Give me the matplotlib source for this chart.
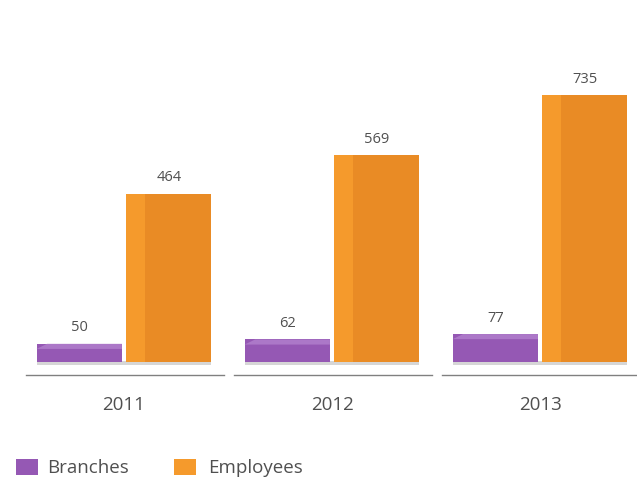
import matplotlib
matplotlib.use("Agg")
import matplotlib.pyplot as plt
from matplotlib.patches import Rectangle, Polygon
import numpy as np

plt.rcParams['font.family'] = ['Open Sans', 'DejaVu Sans']

years = ['2011', '2012', '2013']
branches = [50, 62, 77]
employees = [464, 569, 735]

purple = '#9558B4'
purple_top = '#AC78C8'
orange = '#E98B25'
orange_side = '#F59A2C'
text_col = '#505050'

fig = plt.figure(figsize=(6.37, 4.81), dpi=100)
fig.patch.set_facecolor('white')

# axes: baseline at 363 px from the top, full width
base_frac = (481 - 363) / 481
ax = fig.add_axes([0, base_frac, 1, 1 - base_frac])
ax.set_xlim(-0.596, 2.466)
ax.set_ylim(0, 1000)
ax.axis('off')

x = np.arange(len(years))
off = 0.215
w = 0.41

# bars
ax.bar(x - off, branches, width=w, color=purple, zorder=2)
ax.bar(x + off, employees, width=w, color=orange, zorder=2)

# lighter left face on the employee bars and top face on branch bars
ax.bar(x + off - w / 2 + 0.045, employees, width=0.09, color=orange_side, zorder=3)
for xi, v in zip(x, branches):
    ax.add_patch(Polygon([[xi - off - w / 2, v - 14], [xi - off - w / 2 + 0.05, v],
                          [xi - off + w / 2, v], [xi - off + w / 2, v - 14]],
                         closed=True, color=purple_top, zorder=3, lw=0))

# soft shadow along the floor
for xi in x:
    ax.add_patch(Rectangle((xi - off - w / 2, -8), 2 * off + w, 10,
                           color='#8a8a8a', alpha=0.35, lw=0, zorder=1, clip_on=False))

# value labels
for xi, v in zip(x, branches):
    ax.text(xi - off, v + 26, str(v), ha='center', va='bottom', fontsize=10.5, color=text_col)
for xi, v in zip(x, employees):
    ax.text(xi + off, v + 26, str(v), ha='center', va='bottom', fontsize=10.5, color=text_col)

# separator lines and year labels below the floor
ax2 = fig.add_axes([0, 0, 1, base_frac])
ax2.set_xlim(ax.get_xlim())
ax2.set_ylim(481, 363)
ax2.axis('off')
for xi, yr in zip(x, years):
    ax2.plot([xi - 0.47, xi + 0.48], [376, 376], color='#808080', lw=1)
    ax2.text(xi, 405, yr, ha='center', va='center', fontsize=13.5, color=text_col)

# legend
ax2.add_patch(Rectangle((-0.52, 460), 0.108, 16, color=purple, lw=0))
ax2.text(-0.37, 468, 'Branches', ha='left', va='center', fontsize=13.5, color=text_col)
ax2.add_patch(Rectangle((0.24, 460), 0.108, 16, color=orange_side, lw=0))
ax2.text(0.405, 468, 'Employees', ha='left', va='center', fontsize=13.5, color=text_col)

fig.savefig('out.png', dpi=100)
